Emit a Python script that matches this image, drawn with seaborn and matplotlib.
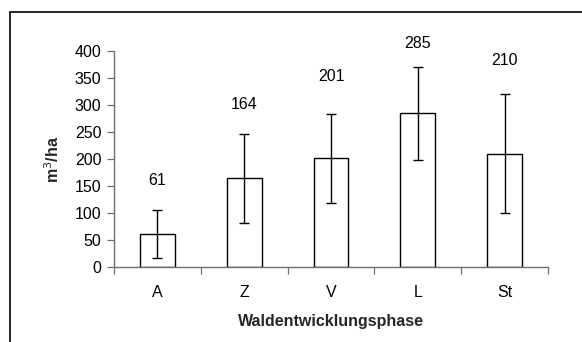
import matplotlib
matplotlib.use("Agg")
import matplotlib.pyplot as plt
from matplotlib.lines import Line2D
import seaborn as sns
import pandas as pd

# Holzvorrat je Waldentwicklungsphase (Mittelwert und Standardabweichung)
phases = ["A", "Z", "V", "L", "St"]
volume = [61, 164, 201, 285, 210]
std_dev = [45, 82, 82, 86, 110]
label_y = [161, 300, 352, 413, 383]

sns.set_theme(style="white")
plt.rcParams["font.family"] = ["Liberation Sans", "DejaVu Sans"]

FS = 11.5

df = pd.DataFrame({"phase": phases, "volume": volume})

fig = plt.figure(figsize=(5.82, 3.42), dpi=100)
ax = fig.add_axes([0.1959, 0.2193, 0.7457, 0.6316])

sns.barplot(data=df, x="phase", y="volume", ax=ax, width=0.4,
            color="white", edgecolor="black", linewidth=1.0, errorbar=None)

ax.errorbar(range(len(phases)), volume, yerr=std_dev, fmt="none",
            ecolor="black", elinewidth=1.0, capsize=3.5, capthick=1.0)

for i, (v, y) in enumerate(zip(volume, label_y)):
    ax.text(i, y, str(v), ha="center", va="center", fontsize=FS,
            color="black", clip_on=False)

ax.set_ylim(0, 400)
ax.set_xlim(-0.5, len(phases) - 0.5)
ax.set_yticks(range(0, 401, 50))

# tick marks between the categories, labels centred below the bars
ax.set_xticks([i - 0.5 for i in range(len(phases) + 1)], minor=True)
ax.tick_params(axis="x", which="major", length=0, pad=13, labelsize=FS,
               colors="black")
ax.tick_params(axis="x", which="minor", length=5, width=0.9,
               direction="out", color="#707070", bottom=True)
ax.tick_params(axis="y", length=5, width=0.9, direction="out", pad=4,
               color="#707070", labelsize=FS, labelcolor="black", left=True)

for side in ("top", "right"):
    ax.spines[side].set_visible(False)
for side in ("left", "bottom"):
    ax.spines[side].set_color("#707070")
    ax.spines[side].set_linewidth(1.0)

ax.set_xlabel("Waldentwicklungsphase", fontsize=FS, fontweight="bold",
              labelpad=10)
ax.set_ylabel("m$^3$/ha", fontsize=FS, fontweight="bold", labelpad=9)

# outer chart frame
fig.add_artist(Line2D([10 / 582, 10 / 582], [0, 1 - 12 / 342],
                      transform=fig.transFigure, color="black", lw=1.2))
fig.add_artist(Line2D([10 / 582, 1], [1 - 12 / 342, 1 - 12 / 342],
                      transform=fig.transFigure, color="black", lw=1.2))

fig.savefig("out.png", dpi=100)
